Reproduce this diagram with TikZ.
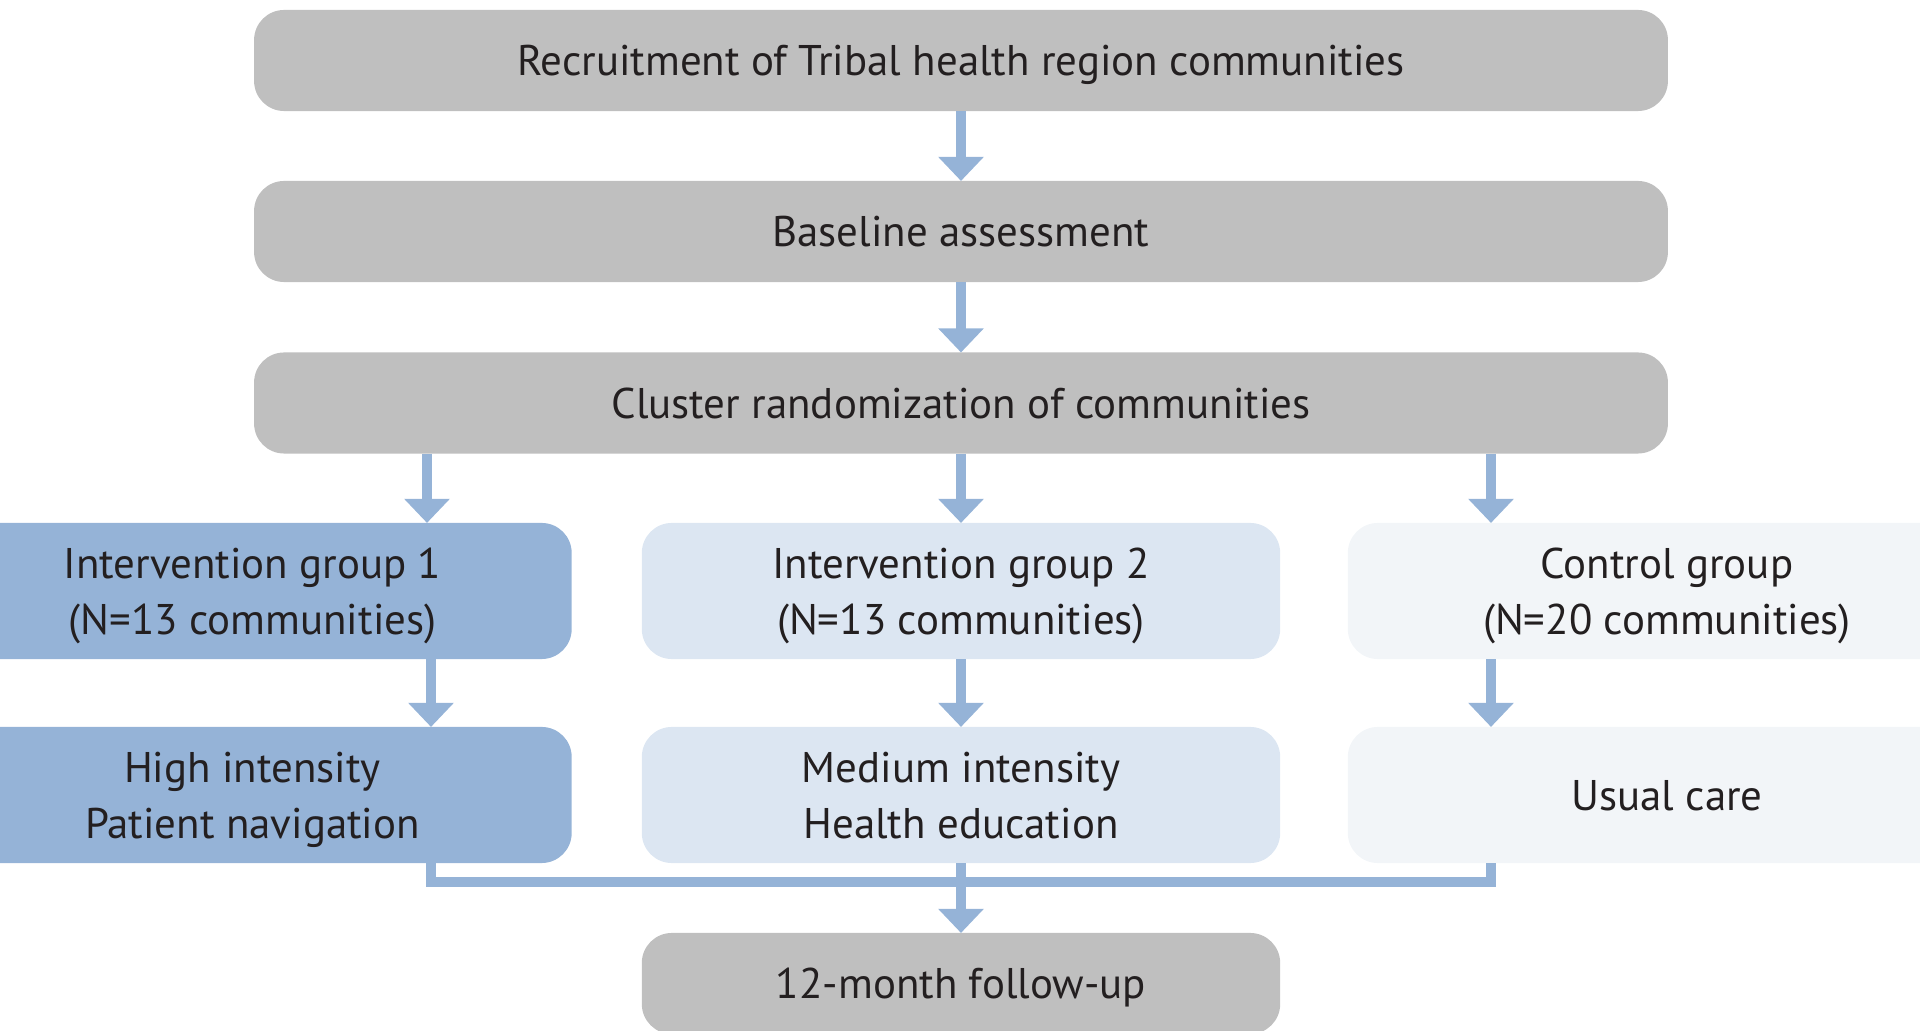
\documentclass[tikz,border=0pt]{standalone}
\usepackage{fontspec}
\setmainfont{PT Sans}
\usetikzlibrary{arrows.meta}
\definecolor{boxgray}{HTML}{BFBFBF}
\definecolor{blueA}{HTML}{95B3D7}
\definecolor{blueB}{HTML}{DCE6F2}
\definecolor{blueC}{HTML}{F2F5F8}
\definecolor{ink}{HTML}{231F20}
\begin{document}
\begin{tikzpicture}[x=0.01cm,y=-0.01cm,
  stage/.style={rectangle, rounded corners=0.3cm, inner sep=0pt, outer sep=0pt,
    align=center, text=ink, text depth=0pt, font=\fontsize{12.2}{15.9}\selectfont},
  wide/.style={stage, fill=boxgray, minimum width=14.13cm, minimum height=1.01cm},
  arm/.style={stage, minimum width=6.38cm, minimum height=1.36cm},
  conn/.style={draw=blueA, line width=0.1cm},
  flow/.style={conn, -{Triangle[width=0.44cm,length=0.24cm]}}]
\useasboundingbox (0,0) rectangle (1920,1031);
\clip (0,0) rectangle (1920,1031);

% sequential stages
\node[wide] (rec) at (961,60.5) {Recruitment of Tribal health region communities};
\node[wide] (base) at (961,231.5) {Baseline assessment};
\node[wide] (clus) at (961,403) {Cluster randomization of communities};

% study arms
\node[arm, fill=blueA] (g1) at (252.5,591) {Intervention group 1\\(N=13 communities)};
\node[arm, fill=blueB] (g2) at (961,591) {Intervention group 2\\(N=13 communities)};
\node[arm, fill=blueC] (g3) at (1667,591) {Control group\\(N=20 communities)};

\node[arm, fill=blueA] (i1) at (252.5,795) {High intensity\\Patient navigation};
\node[arm, fill=blueB] (i2) at (961,795) {Medium intensity\\Health education};
\node[arm, fill=blueC] (i3) at (1667,795) {Usual care};

\node[arm, fill=boxgray, minimum height=1.01cm] (fu) at (961,983.5) {12-month follow-up};

% connector columns
\coordinate (xa) at (427,0);
\coordinate (xb) at (431,0);
\coordinate (xc) at (1491,0);
\coordinate (lev) at (0,882);

\draw[flow] (rec) -- (base);
\draw[flow] (base) -- (clus);
\draw[flow] (clus.south -| xa) -- (g1.north -| xa);
\draw[flow] (clus) -- (g2);
\draw[flow] (clus.south -| xc) -- (g3.north -| xc);
\draw[flow] (g1.south -| xb) -- (i1.north -| xb);
\draw[flow] (g2) -- (i2);
\draw[flow] (g3.south -| xc) -- (i3.north -| xc);

% merge into follow-up
\draw[conn] (i1.south -| xb) -- (lev -| xb) -- (lev -| xc) -- (i3.south -| xc);
\draw[flow] (i2) -- (fu);
\end{tikzpicture}
\end{document}
